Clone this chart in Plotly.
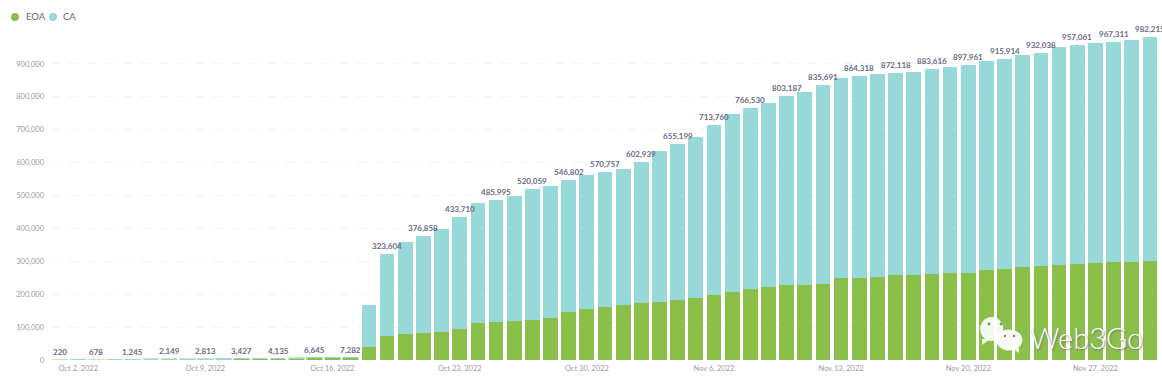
import plotly.graph_objects as go

days = ["Oct %d" % d for d in range(1, 32)] + ["Nov %d" % d for d in range(1, 31)]
totals = [220, 450, 678, 950, 1245, 1700, 2149, 2500, 2813, 3100, 3427, 3800, 4135, 5400, 6645, 7000, 7282,
          167000, 323604, 358000, 376858, 398000, 433710, 478000, 485995, 499500, 520059, 529000, 546802,
          562000, 570757, 582000, 602939, 635000, 655199, 677000, 713760, 747000, 766530, 782000, 803187,
          815500, 835691, 856000, 864318, 869000, 872118, 875000, 883616, 890500, 897961, 910000, 915914,
          927000, 932038, 952000, 957061, 962500, 967311, 973000, 982215]
eoa = [215, 440, 660, 925, 1210, 1650, 2090, 2430, 2730, 3010, 3330, 3690, 4010, 5240, 6450, 6790, 7060,
       40000, 73000, 79000, 82000, 86000, 93000, 111000, 114500, 117500, 122500, 126500, 145000,
       156000, 161000, 167000, 172000, 175000, 181000, 188000, 198600, 207000, 216000, 222000, 227000,
       229000, 231000, 248000, 249000, 253000, 257000, 258000, 261000, 265000, 265000, 274500, 276500,
       283000, 285000, 289000, 293000, 295000, 297000, 299000, 300000]
ca = [t - e for t, e in zip(totals, eoa)]
label_idx = list(range(0, 61, 2))
tick_days = ["Oct 2", "Oct 9", "Oct 16", "Oct 23", "Oct 30", "Nov 6", "Nov 13", "Nov 20", "Nov 27"]
tick_text = [d + ", 2022" for d in tick_days]
y_ticks = list(range(0, 1000000, 100000))

GREEN, TEAL = "#8abf4a", "#97d9d9"
FONT = "Lato, 'Open Sans', sans-serif"

fig = go.Figure()
fig.add_bar(x=days, y=eoa, name="EOA",
            marker=dict(color=GREEN, line=dict(width=[2 if t < 10000 else 0 for t in totals],
                                               color="rgba(138,191,74,0.4)")))
fig.add_bar(x=days, y=ca, name="CA", marker=dict(color=TEAL, line_width=0))


def dot(x, y, rx, ry, color):
    return dict(type="circle", xref="paper", yref="paper", xsizemode="pixel", ysizemode="pixel",
                xanchor=(x - 51) / 1108, yanchor=(360 - y) / 354,
                x0=-rx, x1=rx, y0=-ry, y1=ry, fillcolor=color, line_width=0)


def tail(x, y, path):
    return dict(type="path", xref="paper", yref="paper", xsizemode="pixel", ysizemode="pixel",
                xanchor=(x - 51) / 1108, yanchor=(360 - y) / 354, path=path,
                fillcolor="rgba(255,255,255,0.9)", line_width=0)


shapes = [
    dot(15, 17, 4, 4, GREEN), dot(53, 17, 4, 4, TEAL),
    dot(991.7, 329, 11.5, 12, "rgba(255,255,255,0.9)"),
    tail(985, 339, "M -3 0 L 5 0 L -3 -6 Z"),
    dot(1009.3, 340, 13, 10.5, "rgba(255,255,255,0.95)"),
    tail(1016, 348, "M -4 0 L 3 0 L 3 -5 Z"),
    dot(989, 324, 1.4, 1.4, "#8a8a78"), dot(1001, 324, 1.4, 1.4, "#8a8a78"),
    dot(1005, 336, 1.2, 1.2, "#8a8a78"), dot(1014, 336, 1.2, 1.2, "#8a8a78"),
]
value_labels = [
    dict(text=f"{totals[i]:,}", x=days[i], y=totals[i], xref="x", yref="y", yshift=8, yanchor="middle",
         showarrow=False, font=dict(family=FONT, size=8, color="#6a6a84", weight=700))
    for i in label_idx
]
fig.update_layout(
    width=1162, height=378, autosize=False, barmode="stack", bargap=0.19, showlegend=False,
    margin=dict(l=51, r=3, t=6, b=18), paper_bgcolor="white", plot_bgcolor="white",
    font=dict(family=FONT, size=8, color="#9a9aa8"),
    xaxis=dict(type="category", range=[-0.5, 60.5], tickmode="array", tickvals=tick_days, ticktext=tick_text,
               showgrid=False, showline=False, ticks="", ticklabelstandoff=2,
               tickfont=dict(size=7.5, color="#9a9aa8")),
    yaxis=dict(range=[0, 1076000], tickvals=y_ticks, tickformat=",", showline=False, zeroline=False,
               gridcolor="#f4f4f4", griddash="dash", gridwidth=1, ticklabelstandoff=6,
               tickfont=dict(size=7.5, color="#9a9aa8"), ticks=""),
    shapes=shapes,
    annotations=value_labels + [
        dict(text="EOA", xref="paper", yref="paper", x=(24 - 51) / 1108, y=(360 - 17) / 354, xanchor="left",
             yanchor="middle", showarrow=False, font=dict(family=FONT, size=9.5, color="#666677")),
        dict(text="CA", xref="paper", yref="paper", x=(61 - 51) / 1108, y=(360 - 17) / 354, xanchor="left",
             yanchor="middle", showarrow=False, font=dict(family=FONT, size=9.5, color="#666677")),
        dict(text="Web3Go", xref="paper", yref="paper", x=(1086 - 51) / 1108, y=(360 - 337) / 354, xanchor="center",
             yanchor="middle", showarrow=False,
             font=dict(family=FONT, size=29, color="white", weight=300, shadow="1px 1px 2px #777")),
    ],
)
fig.write_html("out.html", config={"displayModeBar": False}, post_script="document.body.style.margin='0';")
